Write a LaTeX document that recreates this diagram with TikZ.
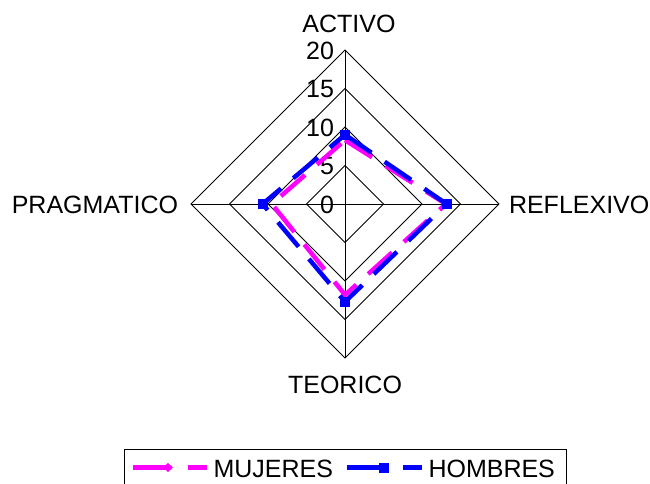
\documentclass[tikz,border=0pt]{standalone}
\usepackage{fontspec}
\setmainfont{Liberation Sans}
\definecolor{mag}{RGB}{255,0,255}
\definecolor{blu}{RGB}{0,0,255}
\begin{document}
\begin{tikzpicture}[x=1pt,y=-1pt,
  lbl/.style={font=\fontsize{25}{29}\selectfont, inner sep=0pt, outer sep=0pt},
  gridline/.style={black, line width=0.9pt},
  serie/.style={line width=4.5pt, dash pattern=on 32pt off 16pt},
  sqmark/.style={rectangle, fill=blu, minimum size=10pt, inner sep=0pt, outer sep=0pt},
]
\useasboundingbox (0,0) rectangle (650,484);
\fill[white] (0,0) rectangle (650,484);
\coordinate (O) at (345,204);
% grid rings
\foreach \r in {38.5,77,115.5,154}{
  \draw[gridline] (345,204-\r) -- (345+\r,204) -- (345,204+\r) -- (345-\r,204) -- cycle;
}
\coordinate (axA) at (345,50);
\coordinate (axT) at (345,358);
\coordinate (axP) at (191,204);
\coordinate (axR) at (499,204);
\draw[gridline] (axA) -- (axT);
\draw[gridline] (axP) -- (axR);
% scale labels
\node[lbl, anchor=east] (s0) at (334,205) {0};
\node[lbl, anchor=east] (s5) at (334,166.5) {5};
\node[lbl, anchor=east] (s10) at (334,128) {10};
\node[lbl, anchor=east] (s15) at (334,89.5) {15};
\node[lbl, anchor=east] (s20) at (334,51) {20};
% category labels
\node[lbl, anchor=base] (cA) at (349,33) {ACTIVO};
\node[lbl, anchor=base] (cT) at (345,393) {TEORICO};
\node[lbl, anchor=base east] (cP) at (178,213) {PRAGMATICO};
\node[lbl, anchor=base west] (cR) at (509,213) {REFLEXIVO};
% data MUJERES
\coordinate (mA) at (345,140.1);
\coordinate (mR) at (445.9,204);
\coordinate (mT) at (345,294.9);
\coordinate (mP) at (271.8,204);
% data HOMBRES
\coordinate (hA) at (345,134.7);
\coordinate (hR) at (446.6,204);
\coordinate (hT) at (345,301.8);
\coordinate (hP) at (262.6,204);
\draw[serie, mag] (mA) -- (mR) -- (mT) -- (mP) -- cycle;
\draw[serie, blu] (hA) -- (hR) -- (hT) -- (hP) -- cycle;
\node[sqmark] (qA) at (hA) {};
\node[sqmark] (qR) at (hR) {};
\node[sqmark] (qT) at (hT) {};
\node[sqmark] (qP) at (hP) {};
% legend
\draw[black, line width=1pt] (124,449.3) rectangle (566,495);
\coordinate (l1a) at (133,467.5);
\coordinate (l1b) at (166,467.5);
\draw[mag, line width=4.5pt] (l1a) -- (l1b);
\fill[mag] (163,467.5) -- (168,463) -- (173,467.5) -- (168,472) -- cycle;
\coordinate (l1c) at (188.3,467.5);
\coordinate (l1d) at (207.3,467.5);
\draw[mag, line width=4.5pt] (l1c) -- (l1d);
\node[lbl, anchor=base west] (tM) at (213.5,477.3) {MUJERES};
\coordinate (l2a) at (346.7,467.5);
\coordinate (l2b) at (383,467.5);
\draw[blu, line width=4.5pt] (l2a) -- (l2b);
\node[sqmark] (l2m) at (384.3,467.7) {};
\coordinate (l2c) at (403.3,467.5);
\coordinate (l2d) at (421.7,467.5);
\draw[blu, line width=4.5pt] (l2c) -- (l2d);
\node[lbl, anchor=base west] (tH) at (428.5,477.3) {HOMBRES};
\end{tikzpicture}
\end{document}
